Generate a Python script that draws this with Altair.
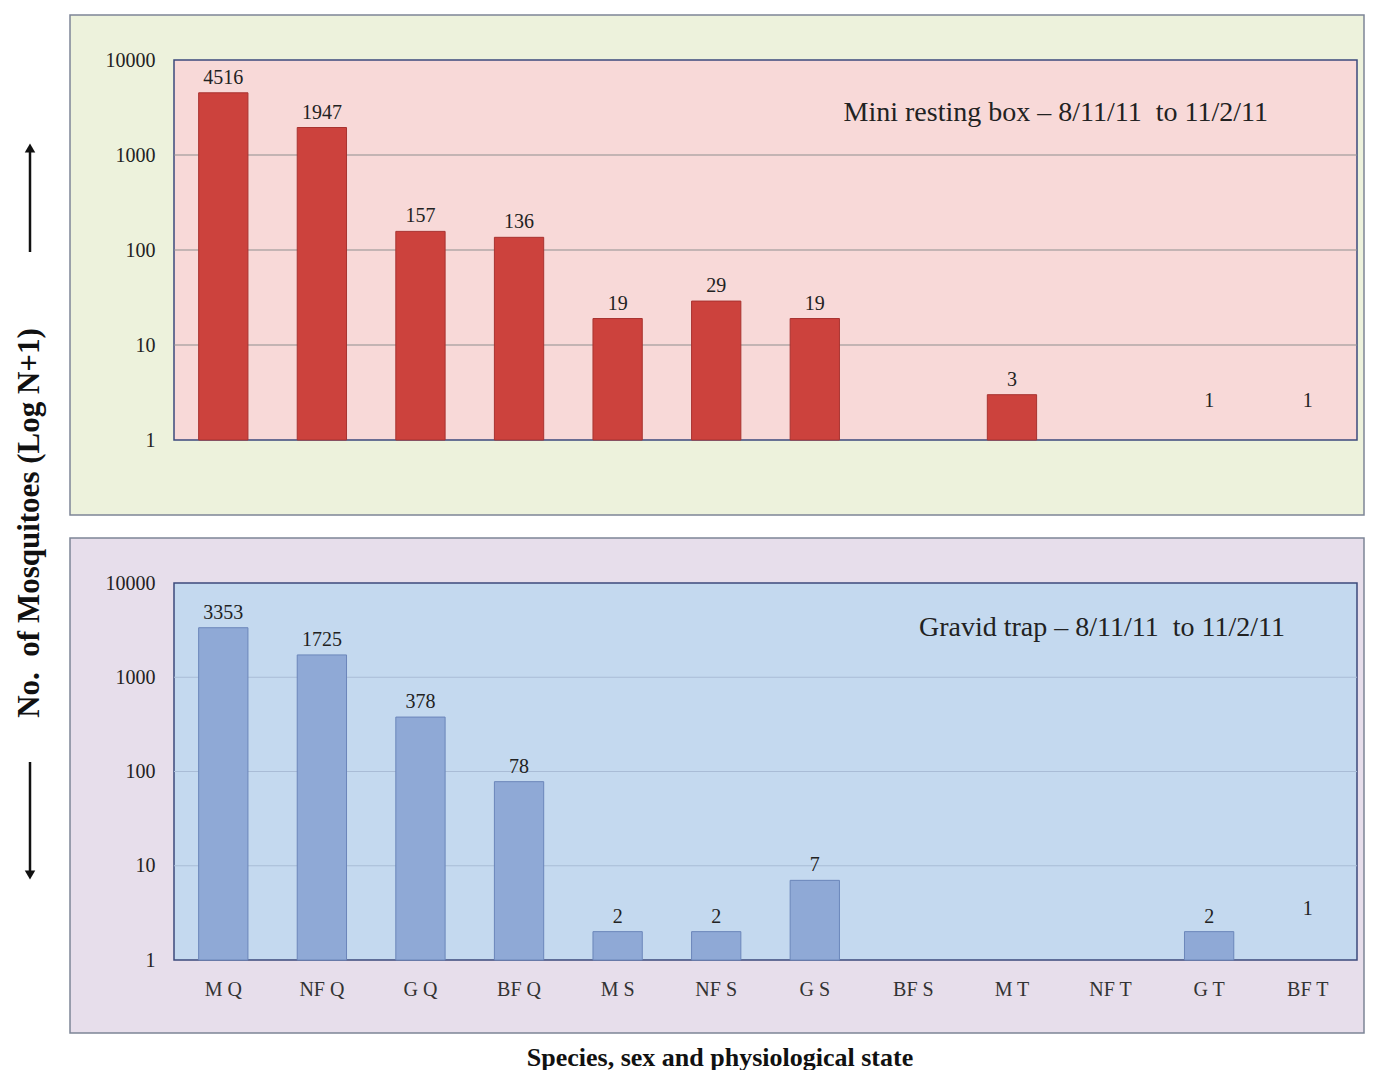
import altair as alt
import pandas as pd

categories = ["M Q", "NF Q", "G Q", "BF Q", "M S", "NF S", "G S", "BF S", "M T", "NF T", "G T", "BF T"]
resting_box = [4516, 1947, 157, 136, 19, 29, 19, None, 3, None, 1, 1]
gravid_trap = [3353, 1725, 378, 78, 2, 2, 7, None, None, None, 2, 1]
y_ticks = [1, 10, 100, 1000, 10000]
grid_values = [10, 100, 1000]

SERIF = "Liberation Serif"
W = 1183
NB = "\u00a0"


def frame(values):
    rows = [{"cat": c, "v": v} for c, v in zip(categories, values) if v is not None]
    return pd.DataFrame(rows)


one = pd.DataFrame({"k": [0]})

yscale = alt.Scale(type="log", domain=[1, 10000])
yaxis = alt.Axis(values=y_ticks, format="d", title=None, grid=False,
                 domain=False, ticks=False, labelFont=SERIF,
                 labelFontSize=20, labelColor="#222222",
                 labelPadding=19, zindex=1)


def panel(values, H, outer_fill, outer_bottom, plot_fill, bar_fill, bar_stroke,
          grid_color, note, note_x, note_y, show_labels, one_dy, extra=None):
    df = frame(values)
    xscale = alt.Scale(domain=categories, paddingInner=0.5, paddingOuter=0.25)
    if show_labels:
        xaxis = alt.Axis(title=None, labelAngle=0, labelFont=SERIF, labelFontSize=20,
                         labelColor="#333333", labelPadding=19, ticks=False,
                         domain=False, grid=False, zindex=1)
    else:
        xaxis = None
    x = alt.X("cat:N", sort=categories, scale=xscale, axis=xaxis)
    y = alt.Y("v:Q", scale=yscale, axis=yaxis)

    outer = alt.Chart(one).mark_rect(clip=False, fill=outer_fill, stroke="#7d8597",
                                     strokeWidth=1.5).encode(
        x=alt.value(-104), x2=alt.value(W + 7), y=alt.value(-45), y2=alt.value(outer_bottom))
    inner = alt.Chart(one).mark_rect(clip=False, fill=plot_fill, stroke="#3c4a7c",
                                     strokeWidth=1.5).encode(
        x=alt.value(0), x2=alt.value(W), y=alt.value(0), y2=alt.value(H))
    grid = alt.Chart(pd.DataFrame({"v": grid_values})).mark_rule(
        color=grid_color, strokeWidth=1).encode(y=y)
    bars = alt.Chart(df).transform_filter("datum.v > 1").mark_bar(
        fill=bar_fill, stroke=bar_stroke, strokeWidth=1).encode(
        x=x, y=y, y2=alt.datum(1))
    labels = alt.Chart(df).transform_filter("datum.v > 1").mark_text(
        font=SERIF, fontSize=20, baseline="bottom", dy=-5, color="#222222").encode(
        x=x, y=y, text=alt.Text("v:Q", format="d"))
    ones = alt.Chart(df).transform_filter("datum.v == 1").mark_text(
        font=SERIF, fontSize=20, baseline="bottom", dy=one_dy, color="#222222").encode(
        x=x, y=y, text=alt.Text("v:Q", format="d"))
    note_mark = alt.Chart(one).mark_text(
        font=SERIF, fontSize=28, align="right", baseline="middle", color="#222222",
        clip=False).encode(x=alt.value(note_x), y=alt.value(note_y), text=alt.value(note))
    layers = [outer, inner, grid, bars, labels, ones, note_mark]
    if extra:
        layers += extra
    return alt.layer(*layers).properties(width=W, height=H)


AX = -144
# y title and arrows (placed in top panel coordinates)
ytitle = alt.Chart(one).mark_text(
    font=SERIF, fontSize=31, fontWeight="bold", angle=270, align="center",
    baseline="middle", color="#111111", clip=False).encode(
    x=alt.value(AX), y=alt.value(463),
    text=alt.value("No." + NB + NB + "of Mosquitoes (Log N+1)"))
up_shaft = alt.Chart(one).mark_rule(color="#111111", strokeWidth=2.5, clip=False).encode(
    x=alt.value(AX), y=alt.value(88), y2=alt.value(192))
up_head = alt.Chart(one).mark_point(shape="triangle-up", filled=True, size=110,
                                    color="#111111", opacity=1, clip=False).encode(
    x=alt.value(AX), y=alt.value(88))
down_shaft = alt.Chart(one).mark_rule(color="#111111", strokeWidth=2.5, clip=False).encode(
    x=alt.value(AX), y=alt.value(702), y2=alt.value(815))
down_head = alt.Chart(one).mark_point(shape="triangle-down", filled=True, size=110,
                                      color="#111111", opacity=1, clip=False).encode(
    x=alt.value(AX), y=alt.value(815))

xtitle = alt.Chart(one).mark_text(
    font=SERIF, fontSize=26, fontWeight="bold", align="center", baseline="middle",
    color="#111111", clip=False).encode(
    x=alt.value(546), y=alt.value(475), text=alt.value("Species, sex and physiological state"))

top = panel(resting_box, 380, "#edf2dc", 455, "#f8d9d8", "#cc423d", "#a83330",
            "#8f8f8f", "Mini resting box \u2013 8/11/11" + NB + NB + "to 11/2/11", 1094, 53,
            False, -29, [ytitle, up_shaft, up_head, down_shaft, down_head])
bottom = panel(gravid_trap, 377, "#e7deeb", 450, "#c4d9ef", "#8fa9d6", "#6b86ba",
               "#a9bcd6", "Gravid trap \u2013 8/11/11" + NB + NB + "to 11/2/11", 1111, 45,
               True, -41, [xtitle])

chart = alt.vconcat(top, bottom, spacing=143, bounds="flush").configure_view(
    stroke=None).configure(background="white")

chart.save("out.html", embed_options={"renderer": "svg", "actions": False})
